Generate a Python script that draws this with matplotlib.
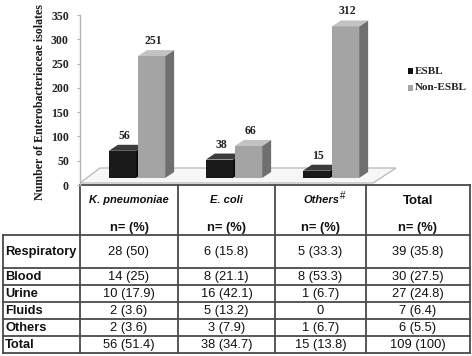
import matplotlib
matplotlib.use('Agg')
import matplotlib.pyplot as plt
from matplotlib.patches import Polygon, Rectangle

# ---------------- data ----------------
categories = ["K. pneumoniae", "E. coli", "Others"]
esbl = [56, 38, 15]
non_esbl = [251, 66, 312]
yticks = [0, 50, 100, 150, 200, 250, 300, 350]

row_labels = ["Respiratory", "Blood", "Urine", "Fluids", "Others", "Total"]
col_kp = ["28 (50)", "14 (25)", "10 (17.9)", "2 (3.6)", "2 (3.6)", "56 (51.4)"]
col_ec = ["6 (15.8)", "8 (21.1)", "16 (42.1)", "5 (13.2)", "3 (7.9)", "38 (34.7)"]
col_ot = ["5 (33.3)", "8 (53.3)", "1 (6.7)", "0", "1 (6.7)", "15 (13.8)"]
col_tot = ["39 (35.8)", "30 (27.5)", "27 (24.8)", "7 (6.4)", "6 (5.5)", "109 (100)"]
sub_header = "n= (%)"

# ---------------- figure ----------------
W, H = 472, 356
fig = plt.figure(figsize=(W / 100, H / 100), dpi=100)
fig.patch.set_facecolor('white')

tab = fig.add_axes([0, 0, 1, 1])
tab.set_xlim(0, W)
tab.set_ylim(H, 0)
tab.axis('off')

ax_left, ax_right, ax_top, ax_bot = 80, 400, 15, 185
ax = fig.add_axes([ax_left / W, 1 - ax_bot / H, (ax_right - ax_left) / W, (ax_bot - ax_top) / H])
ax.set_facecolor('none')

spacing_px = 97.0
c0_px = 137.0
xl = -(c0_px - ax_left) / spacing_px
xr = (ax_right - c0_px) / spacing_px
ax.set_xlim(xl, xr)
ax.set_ylim(0, 350)
ppy = 350 / (ax_bot - ax_top)  # data units per pixel (y)

for s in ['top', 'right', 'bottom']:
    ax.spines[s].set_visible(False)
ax.spines['left'].set_color('#b5b5b5')
ax.spines['left'].set_linewidth(1.0)
ax.set_xticks([])
ax.set_yticks(yticks)
ax.tick_params(axis='y', length=2, color='#b5b5b5', pad=6)
for lab in ax.get_yticklabels():
    lab.set_fontfamily('Liberation Serif')
    lab.set_fontweight('bold')
    lab.set_fontsize(8.5)
    lab.set_color('#222222')

# floor
B = 7 * ppy
DX = 9 / spacing_px
DY = 6 * ppy
floor = Polygon([(xl, 2 * ppy), ((373 - c0_px) / spacing_px, 2 * ppy),
                 ((396 - c0_px) / spacing_px, 17 * ppy), ((100 - c0_px) / spacing_px, 17 * ppy)],
                closed=True, facecolor='#f7f7f7', edgecolor='#b8b8b8', lw=0.9, zorder=1, clip_on=False)
ax.add_patch(floor)

bw = 0.28
off = 0.15
styles = [
    (esbl, -off, '#1a1a1a', '#3c3c3c', '#080808'),
    (non_esbl, off, '#a4a4a4', '#c2c2c2', '#6f6f6f'),
]
for vals, o, front, top, side in styles:
    xs = [i + o for i in range(len(categories))]
    ax.bar(xs, vals, bw, bottom=B, color=front, edgecolor='none', zorder=3)
    for x, h in zip(xs, vals):
        x0, x1 = x - bw / 2, x + bw / 2
        ax.add_patch(Polygon([(x1, B), (x1 + DX, B + DY), (x1 + DX, B + DY + h), (x1, B + h)],
                             closed=True, facecolor=side, edgecolor='none', zorder=3, clip_on=False))
        ax.add_patch(Polygon([(x0, B + h), (x1, B + h), (x1 + DX, B + h + DY), (x0 + DX, B + h + DY)],
                             closed=True, facecolor=top, edgecolor='none', zorder=3, clip_on=False))
        ax.text(x + 0.02, B + h + DY + 3 * ppy, str(h), ha='center', va='bottom',
                fontfamily='Liberation Serif', fontweight='bold', fontsize=8.5, color='#222222',
                zorder=4, clip_on=False)

# y label
tab.text(40, 102, "Number of Enterobacteriaceae isolates", rotation=90, ha='center', va='center',
         fontfamily='Liberation Serif', fontweight='bold', fontsize=8.6, color='#1a1a1a')

# legend
leg = [("ESBL", '#111111', 71), ("Non-ESBL", '#a4a4a4', 88)]
for name, col, yy in leg:
    tab.add_patch(Rectangle((408, yy - 3), 5, 6, facecolor=col, edgecolor='none'))
    tab.text(415, yy, name, ha='left', va='center', fontfamily='Liberation Serif',
             fontweight='bold', fontsize=8, color='#222222')

# ---------------- table ----------------
lc = '#4a4a4a'
lw = 1.3
xcols = [80, 178, 275, 366, 470]
xleft = 3
hlines = [235, 268, 285, 302, 319, 336, 353]
tab.plot([xcols[0], xcols[-1]], [185, 185], color=lc, lw=lw)
for y in hlines:
    tab.plot([xleft, xcols[-1]], [y, y], color=lc, lw=lw)
for x in xcols:
    tab.plot([x, x], [185, 353], color=lc, lw=lw)
tab.plot([xleft, xleft], [235, 353], color=lc, lw=lw)

sans = 'Liberation Sans'
centers = [(xcols[i] + xcols[i + 1]) / 2 for i in range(4)]
# header
tab.text(centers[0], 200, categories[0], ha='center', va='center', fontfamily=sans,
         fontweight='bold', fontstyle='italic', fontsize=8, color='#111111')
tab.text(centers[1], 200, categories[1], ha='center', va='center', fontfamily=sans,
         fontweight='bold', fontstyle='italic', fontsize=8, color='#111111')
tab.text(339, 200, categories[2], ha='right', va='center', fontfamily=sans,
         fontweight='bold', fontstyle='italic', fontsize=8, color='#111111')
tab.text(340, 196, "#", ha='left', va='center', fontfamily=sans, fontsize=7, color='#111111')
tab.text(centers[3], 201, "Total", ha='center', va='center', fontfamily=sans,
         fontweight='bold', fontsize=9.5, color='#111111')
for cx in centers:
    tab.text(cx, 228, sub_header, ha='center', va='center', fontfamily=sans,
             fontweight='bold', fontsize=9.3, color='#111111')

row_centers = [(hlines[i] + hlines[i + 1]) / 2 for i in range(len(row_labels))]
cols = [col_kp, col_ec, col_ot, col_tot]
for r, (lab, yc) in enumerate(zip(row_labels, row_centers)):
    tab.text(5, yc + 0.5, lab, ha='left', va='center', fontfamily=sans,
             fontweight='bold', fontsize=9.3, color='#111111')
    for cx, col in zip(centers, cols):
        tab.text(cx, yc + 0.5, col[r], ha='center', va='center', fontfamily=sans,
                 fontsize=9.3, color='#111111')

fig.savefig('out.png', dpi=100)
